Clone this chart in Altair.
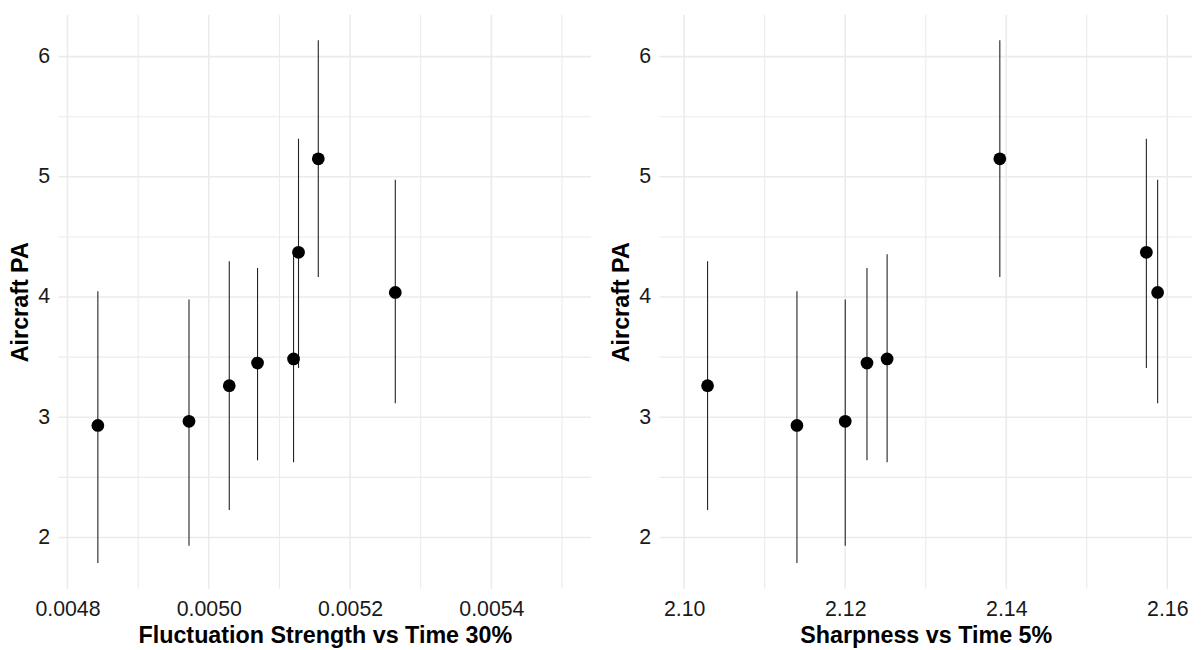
import altair as alt
import pandas as pd

# Data
aircraft_pa = [2.932, 2.966, 3.263, 3.451, 3.485, 4.372, 5.150, 4.038]
pa_low = [1.788, 1.932, 2.229, 2.642, 2.625, 3.410, 4.167, 3.116]
pa_high = [4.048, 3.980, 4.297, 4.242, 4.355, 5.317, 6.137, 4.976]
fluct_30 = [0.004843, 0.004972, 0.005029, 0.005069, 0.005120, 0.005127, 0.005155, 0.005264]
sharp_5 = [2.1140, 2.1200, 2.1029, 2.1227, 2.1252, 2.1574, 2.1392, 2.1588]

# Tick / gridline values
fluct_ticks = [0.0048, 0.0050, 0.0052, 0.0054]
fluct_minor = [0.0049, 0.0051, 0.0053, 0.0055]
sharp_ticks = [2.10, 2.12, 2.14, 2.16]
sharp_minor = [2.11, 2.13, 2.15]
pa_ticks = [2, 3, 4, 5, 6]
pa_minor = [2.5, 3.5, 4.5, 5.5]

fluct_domain = [0.0047874, 0.0055411]
sharp_domain = [2.09693, 2.16307]
pa_domain = [1.573, 6.349]

FONT = "Liberation Sans"
GRID = "#EBEBEB"
LABEL_SIZE = 21.5
TITLE_SIZE = 23.5


def panel(xvals, xtitle, xdomain, xticks, xminor, fmt):
    df = pd.DataFrame({"x": xvals, "pa": aircraft_pa, "lo": pa_low, "hi": pa_high})
    xs = alt.Scale(domain=xdomain, nice=False, zero=False)
    ys = alt.Scale(domain=pa_domain, nice=False, zero=False)
    xax = alt.Axis(
        values=xticks, format=fmt, title=xtitle, grid=False, ticks=False,
        tickSize=0, domain=False, labelFontSize=LABEL_SIZE, labelPadding=10,
        labelColor="#1a1a1a", labelFlush=False, labelFont=FONT,
        titleFont=FONT, titleFontSize=TITLE_SIZE, titleFontWeight="bold",
        titlePadding=4, titleColor="black",
    )
    yax = alt.Axis(
        values=pa_ticks, format="d", title="Aircraft PA", grid=False,
        ticks=False, tickSize=0, domain=False, labelFontSize=LABEL_SIZE,
        labelPadding=9, labelColor="#1a1a1a", labelFont=FONT,
        titleFont=FONT, titleFontSize=TITLE_SIZE, titleFontWeight="bold",
        titlePadding=5, titleColor="black",
    )

    vmin = alt.Chart(pd.DataFrame({"v": xminor})).mark_rule(
        color=GRID, strokeWidth=1.1
    ).encode(x=alt.X("v:Q", scale=xs, axis=xax))
    vmaj = alt.Chart(pd.DataFrame({"v": xticks})).mark_rule(
        color=GRID, strokeWidth=1.6
    ).encode(x=alt.X("v:Q", scale=xs, axis=xax))
    hmin = alt.Chart(pd.DataFrame({"v": pa_minor})).mark_rule(
        color=GRID, strokeWidth=1.1
    ).encode(y=alt.Y("v:Q", scale=ys, axis=yax))
    hmaj = alt.Chart(pd.DataFrame({"v": pa_ticks})).mark_rule(
        color=GRID, strokeWidth=1.6
    ).encode(y=alt.Y("v:Q", scale=ys, axis=yax))

    bars = alt.Chart(df).mark_rule(color="#222222", strokeWidth=1.1).encode(
        x=alt.X("x:Q", scale=xs, axis=xax),
        y=alt.Y("lo:Q", scale=ys, axis=yax),
        y2="hi:Q",
    )

    pts = alt.Chart(df).mark_circle(size=165, color="black", opacity=1).encode(
        x=alt.X("x:Q", scale=xs, axis=xax),
        y=alt.Y("pa:Q", scale=ys, axis=yax),
    )
    return alt.layer(vmin, vmaj, hmin, hmaj, bars, pts).properties(width=537, height=579)


left = panel(fluct_30, "Fluctuation Strength vs Time 30%", fluct_domain,
             fluct_ticks, fluct_minor, ".4f")
right = panel(sharp_5, "Sharpness vs Time 5%", sharp_domain,
              sharp_ticks, sharp_minor, ".2f")

chart = alt.hconcat(left, right, spacing=18).properties(
    padding={"left": 1, "top": 3, "right": 0, "bottom": 0}
).configure_view(stroke=None)

chart.save("out.html", embed_options={"renderer": "svg", "actions": False})
